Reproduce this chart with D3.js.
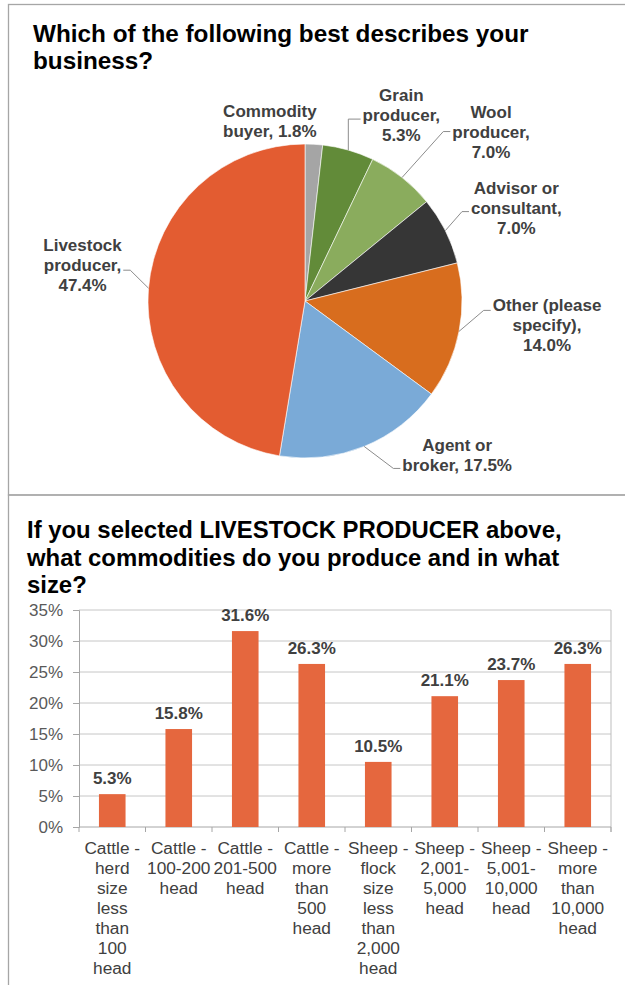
<!DOCTYPE html>
<html>
<head>
<meta charset="utf-8">
<script src="https://cdn.jsdelivr.net/npm/d3@7"></script>
<style>
  html, body { margin: 0; padding: 0; background: #fff; }
  svg { display: block; font-family: "Liberation Sans", Arial, sans-serif; }
</style>
</head>
<body>
<svg id="chart" width="625" height="985"></svg>
<script>
// ---- Pie: business type ----
const pieNames = ["Commodity buyer", "Grain producer", "Wool producer", "Advisor or consultant",
                  "Other (please specify)", "Agent or broker", "Livestock producer"];
const pieValues = [1.8, 5.3, 7.0, 7.0, 14.0, 17.5, 47.4];
const pieColors = ["#a5a5a5", "#628b39", "#8aac5d", "#363636", "#d86d1e", "#7aaad7", "#e35c31"];
// how each label's name is broken into lines (value is appended)
const pieNameLines = [
  ["Commodity", "buyer,"],
  ["Grain", "producer,"],
  ["Wool", "producer,"],
  ["Advisor or", "consultant,"],
  ["Other (please", "specify),"],
  ["Agent or", "broker,"],
  ["Livestock", "producer,"]
];
const pieValueInline = [true, false, false, false, false, true, false];

// ---- Bars: livestock commodities and size ----
const barCategoryLines = [
  ["Cattle -", "herd", "size", "less", "than", "100", "head"],
  ["Cattle -", "100-200", "head"],
  ["Cattle -", "201-500", "head"],
  ["Cattle -", "more", "than", "500", "head"],
  ["Sheep -", "flock", "size", "less", "than", "2,000", "head"],
  ["Sheep -", "2,001-", "5,000", "head"],
  ["Sheep -", "5,001-", "10,000", "head"],
  ["Sheep -", "more", "than", "10,000", "head"]
];
const barCategories = barCategoryLines.map(l => l.join(" "));
const barValues = [5.3, 15.8, 31.6, 26.3, 10.5, 21.1, 23.7, 26.3];
const yTicks = [0, 5, 10, 15, 20, 25, 30, 35];

const fmt = v => v.toFixed(1) + "%";
const svg = d3.select("#chart");
const textColor = "#404040";

// ---- frames ----
const frameColor = "#a6a6a6";
svg.append("rect").attr("x", 8.5).attr("y", 4.5).attr("width", 700).attr("height", 490.5)
  .attr("fill", "none").attr("stroke", frameColor).attr("stroke-width", 1.3);
svg.append("rect").attr("x", 8.5).attr("y", 495).attr("width", 700).attr("height", 600)
  .attr("fill", "none").attr("stroke", frameColor).attr("stroke-width", 1.3);

// ---- titles ----
function title(lines, x, y0, dy, size) {
  const t = svg.append("text").attr("x", x).attr("y", y0)
    .attr("font-size", size).attr("font-weight", "bold").attr("fill", "#000");
  lines.forEach((s, i) => t.append("tspan").attr("x", x).attr("y", y0 + i * dy).text(s));
}
title(["Which of the following best describes your", "business?"], 33, 42, 27, 24.3);
title(["If you selected LIVESTOCK PRODUCER above,", "what commodities do you produce and in what", "size?"], 27, 538, 27.5, 23.9);

// ---- pie ----
const cx = 305, cy = 301, r = 157;
const pieG = svg.append("g").attr("transform", `translate(${cx},${cy})`);
const arcs = d3.pie().sort(null).value(d => d)(pieValues);
const arc = d3.arc().innerRadius(0).outerRadius(r);
pieG.selectAll("path").data(arcs).join("path")
  .attr("d", arc)
  .attr("fill", (d, i) => pieColors[i])
  .attr("stroke", "#fff").attr("stroke-width", 0.6);

// label placement relative to the arc midpoint of each slice
const pieLabelLayout = [
  { dx: -44, dy: -23, line: null },
  { dx: 53, dy: -35, line: 1, side: "left", dyLine: 4, elbow: "vertical" },
  { dx: 89, dy: -46, line: 1, side: "left", dyLine: 0 },
  { dx: 71, dy: -23, line: 1, side: "left", dyLine: 4 },
  { dx: 88, dy: -6, line: 0, side: "left", dyLine: 5 },
  { dx: 93, dy: 9, line: 1, side: "left", dyLine: 3 },
  { dx: -66, dy: -23, line: 1, side: "right", dyLine: 5 }
];
const lineH = 20;
arcs.forEach((a, i) => {
  const mid = (a.startAngle + a.endAngle) / 2;
  const ax = cx + r * Math.sin(mid), ay = cy - r * Math.cos(mid);
  const L = pieLabelLayout[i];
  const lines = pieNameLines[i].slice();
  if (pieValueInline[i]) lines[lines.length - 1] += " " + fmt(pieValues[i]);
  else lines.push(fmt(pieValues[i]));
  const lx = ax + L.dx, lyc = ay + L.dy;
  const top = lyc - (lines.length - 1) * lineH / 2;
  const t = svg.append("text").attr("text-anchor", "middle")
    .attr("font-size", 17).attr("font-weight", "bold").attr("fill", textColor);
  const spans = lines.map((s, k) => t.append("tspan").attr("x", lx).attr("y", top + k * lineH + 6).text(s));
  if (L.line !== null) {
    const w = spans[L.line].node().getComputedTextLength();
    const yAttach = top + L.line * lineH + L.dyLine;
    const xAttach = L.side === "left" ? lx - w / 2 - 2 : lx + w / 2 + 2;
    const xElbow = L.side === "left" ? xAttach - 7 : xAttach + 7;
    let pts;
    if (L.elbow === "vertical") pts = [[ax, ay], [ax, yAttach], [xAttach, yAttach]];
    else pts = [[ax, ay], [xElbow, yAttach], [xAttach, yAttach]];
    svg.append("path").attr("d", d3.line()(pts))
      .attr("fill", "none").attr("stroke", "#8c8c8c").attr("stroke-width", 1);
  }
});

// ---- bar chart ----
const plot = { left: 79, right: 611, top: 610, bottom: 827 };
const x = d3.scaleBand().domain(barCategories).range([plot.left, plot.right])
  .paddingInner(0.6).paddingOuter(0.3);
const y = d3.scaleLinear().domain([0, 35]).range([plot.bottom, plot.top]);

// gridlines
svg.append("g").selectAll("line").data(yTicks.filter(d => d > 0)).join("line")
  .attr("x1", plot.left).attr("x2", plot.right)
  .attr("y1", d => y(d)).attr("y2", d => y(d))
  .attr("stroke", "#c6c6c6").attr("stroke-width", 1);
// right border of plot
svg.append("line").attr("x1", plot.right).attr("x2", plot.right)
  .attr("y1", plot.top).attr("y2", plot.bottom + 5)
  .attr("stroke", "#bdbdbd").attr("stroke-width", 1);

// y axis
const yAxis = svg.append("g").attr("transform", `translate(${plot.left},0)`)
  .call(d3.axisLeft(y).tickValues(yTicks).tickFormat(d => d + "%").tickSize(6).tickPadding(10));
yAxis.select(".domain").attr("stroke", "#a6a6a6");
yAxis.selectAll(".tick line").attr("stroke", "#a6a6a6");
yAxis.selectAll(".tick text").attr("font-size", 17).attr("fill", "#595959")
  .attr("font-family", "Liberation Sans, Arial, sans-serif");

// x axis line and ticks at band boundaries
svg.append("line").attr("x1", plot.left).attr("x2", plot.right)
  .attr("y1", plot.bottom).attr("y2", plot.bottom).attr("stroke", "#a6a6a6");
const step = x.step();
svg.append("g").selectAll("line").data(d3.range(barCategories.length + 1)).join("line")
  .attr("x1", i => plot.left + i * step).attr("x2", i => plot.left + i * step)
  .attr("y1", plot.bottom).attr("y2", plot.bottom + 5).attr("stroke", "#a6a6a6");

// bars
svg.append("g").selectAll("rect").data(barValues).join("rect")
  .attr("x", (d, i) => x(barCategories[i]))
  .attr("width", x.bandwidth())
  .attr("y", d => y(d))
  .attr("height", d => y(0) - y(d))
  .attr("fill", "#e5673e");

// value labels
svg.append("g").selectAll("text").data(barValues).join("text")
  .attr("x", (d, i) => x(barCategories[i]) + x.bandwidth() / 2)
  .attr("y", d => y(d) - 10)
  .attr("text-anchor", "middle").attr("font-size", 17).attr("font-weight", "bold")
  .attr("fill", textColor).text(d => fmt(d));

// category labels
barCategoryLines.forEach((lines, i) => {
  const t = svg.append("text").attr("text-anchor", "middle")
    .attr("font-size", 17.3).attr("fill", textColor);
  const xc = x(barCategories[i]) + x.bandwidth() / 2;
  lines.forEach((s, k) => t.append("tspan").attr("x", xc).attr("y", 854 + k * 20).text(s));
});
</script>
</body>
</html>
